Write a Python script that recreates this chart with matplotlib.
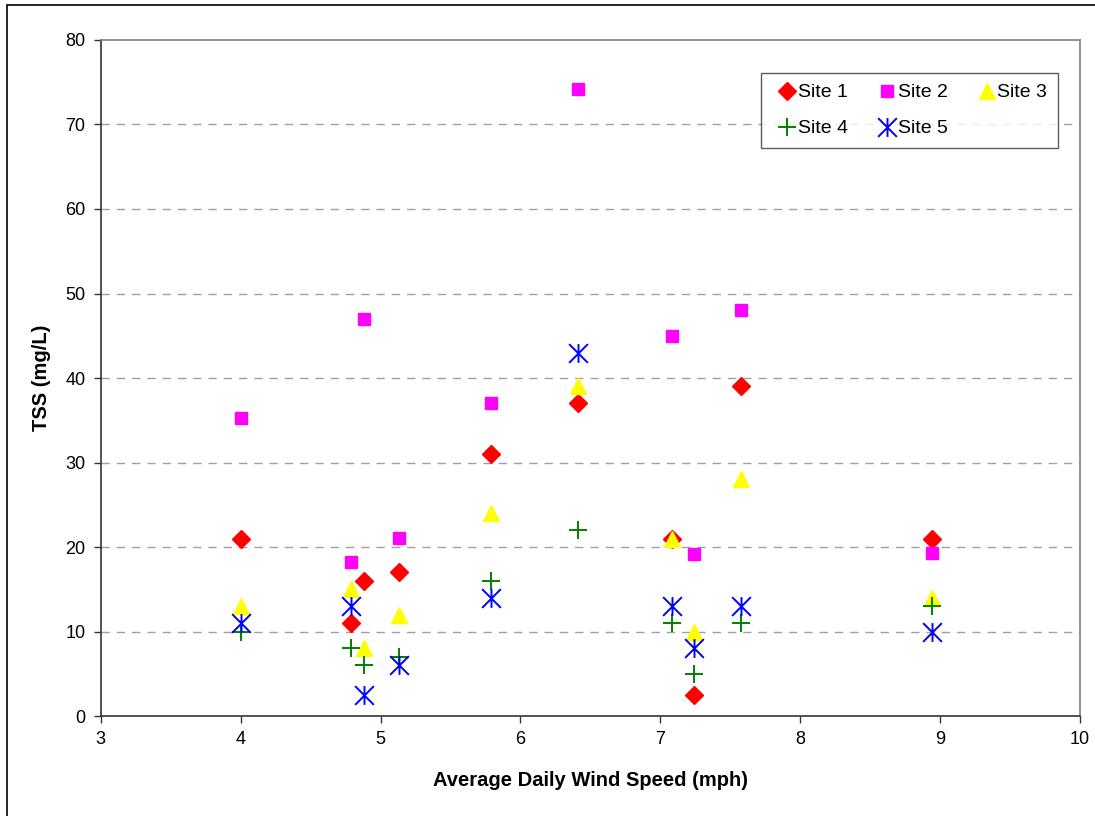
"""TSS versus average daily wind speed, five sites."""

import matplotlib
matplotlib.use("Agg")
import matplotlib.pyplot as plt
from matplotlib.path import Path
from matplotlib.patches import Rectangle

plt.rcParams["font.family"] = ["Liberation Sans", "DejaVu Sans"]

wind_speed = [4.0, 4.79, 4.88, 5.13, 5.79, 6.41, 7.08, 7.24, 7.58, 8.94]
site1 = [21, 11, 16, 17, 31, 37, 21, 2.5, 39, 21]
site2 = [35.3, 18.2, 47, 21.1, 37, 74.2, 45, 19.2, 48.1, 19.3]
site3 = [13, 15, 8, 12, 24, 39, 21, 10, 28, 14]
site4 = [10, 8, 6, 7, 16, 22, 11, 5, 11, 13]
site5 = [11, 13, 2.5, 6, 14, 43, 13, 8, 13, 10]

x_ticks = [3, 4, 5, 6, 7, 8, 9, 10]
y_ticks = [0, 10, 20, 30, 40, 50, 60, 70, 80]

# Excel-style star: an X with a vertical bar through it
star = Path(
    [(-1, -1), (1, 1), (-1, 1), (1, -1), (0, -1), (0, 1)],
    [Path.MOVETO, Path.LINETO, Path.MOVETO, Path.LINETO, Path.MOVETO, Path.LINETO],
)

fig = plt.figure(figsize=(10.95, 8.16), dpi=100)
ax = fig.add_axes([0.092, 0.1225, 0.8943, 0.8285])

h1, = ax.plot(wind_speed, site1, ls="none", marker="D", ms=9, color="#FF0000",
              mec="#FF0000", label="Site 1")
h2, = ax.plot(wind_speed, site2, ls="none", marker="s", ms=8.5, color="#FF00FF",
              mec="#FF00FF", label="Site 2")
h3, = ax.plot(wind_speed, site3, ls="none", marker="^", ms=11.5, color="#FFFF00",
              mec="#FFFF00", label="Site 3")
h4, = ax.plot(wind_speed, site4, ls="none", marker="+", ms=13, mew=1.4,
              color="#008000", label="Site 4")
h5, = ax.plot(wind_speed, site5, ls="none", marker=star, ms=13.5, mew=1.4,
              color="#0000FF", mec="#0000FF", label="Site 5")

ax.set_xlim(3, 10)
ax.set_ylim(0, 80)
ax.set_xticks(x_ticks)
ax.set_yticks(y_ticks)
ax.tick_params(direction="out", length=5, width=1, colors="#333333",
               labelsize=13, labelcolor="black", pad=6)

for y in y_ticks[1:-1]:
    ax.axhline(y, color="#A0A0A0", lw=1, dashes=(6, 5), zorder=0)

for side in ("left", "bottom"):
    ax.spines[side].set_color("#333333")
    ax.spines[side].set_linewidth(1.2)
for side in ("top", "right"):
    ax.spines[side].set_color("#808080")
    ax.spines[side].set_linewidth(1.2)

ax.set_xlabel("Average Daily Wind Speed (mph)", fontsize=14.5, fontweight="bold",
              labelpad=16)
ax.set_ylabel("TSS (mg/L)", fontsize=14.5, fontweight="bold", labelpad=10)

# legend filled row by row: Site 1-3 on top, Site 4-5 below
handles = [h1, h4, h2, h5, h3]
leg = ax.legend(handles=handles, labels=[h.get_label() for h in handles],
                loc="upper right", bbox_to_anchor=(0.9775, 0.951),
                borderaxespad=0, ncol=3, fontsize=14, frameon=True,
                fancybox=False, edgecolor="#333333",
                handlelength=1.6, handletextpad=-0.25, columnspacing=1.22,
                borderpad=0.55, labelspacing=0.95)
leg.get_frame().set_linewidth(1)

# outer chart frame
fig.patches.append(Rectangle((7 / 1095, -0.1), 1.2, 1 - 5 / 816 + 0.1,
                             transform=fig.transFigure, fill=False,
                             edgecolor="black", lw=1.2))

fig.savefig("out.png", dpi=100)
